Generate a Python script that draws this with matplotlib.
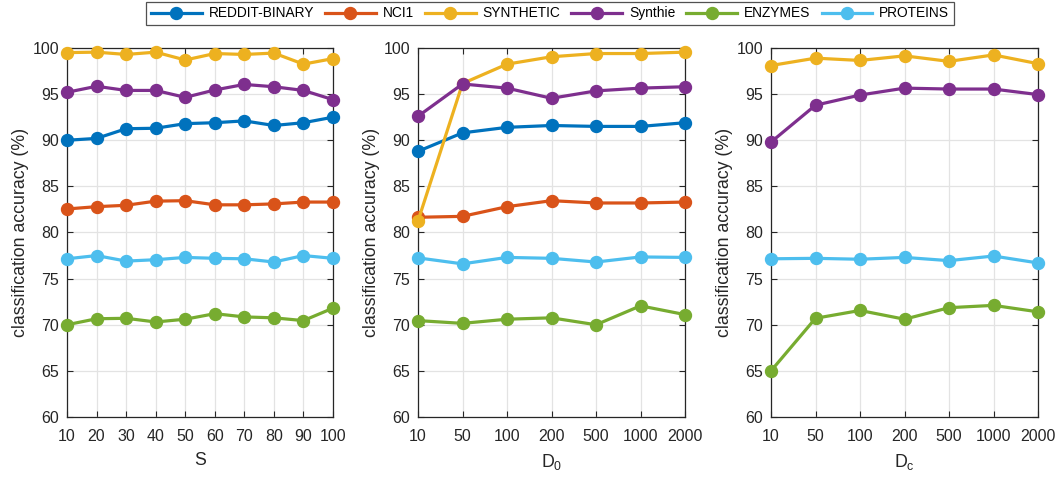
import matplotlib
matplotlib.use("Agg")
import matplotlib.pyplot as plt

plt.rcParams['font.family'] = ['Liberation Sans', 'DejaVu Sans']
plt.rcParams['mathtext.fontset'] = 'custom'
plt.rcParams['mathtext.rm'] = 'Liberation Sans'
plt.rcParams['mathtext.it'] = 'Liberation Sans:italic'

# ---- data ----
series_names = ['REDDIT-BINARY', 'NCI1', 'SYNTHETIC', 'Synthie', 'ENZYMES', 'PROTEINS']
colors = ['#0072BD', '#D95319', '#EDB120', '#7E2F8E', '#77AC30', '#4DBEEE']

s_values = [10, 20, 30, 40, 50, 60, 70, 80, 90, 100]
d_labels = ['10', '50', '100', '200', '500', '1000', '2000']

# Panel 1: varying S
p1_reddit = [90.0, 90.2, 91.25, 91.3, 91.8, 91.9, 92.1, 91.6, 91.9, 92.5]
p1_nci1 = [82.55, 82.8, 82.95, 83.4, 83.45, 83.0, 83.0, 83.1, 83.3, 83.3]
p1_synthetic = [99.5, 99.55, 99.3, 99.55, 98.7, 99.4, 99.3, 99.45, 98.25, 98.85]
p1_synthie = [95.2, 95.85, 95.4, 95.4, 94.65, 95.45, 96.05, 95.8, 95.4, 94.4]
p1_enzymes = [70.0, 70.65, 70.7, 70.3, 70.6, 71.2, 70.85, 70.75, 70.45, 71.8]
p1_proteins = [77.15, 77.5, 76.9, 77.05, 77.3, 77.2, 77.15, 76.8, 77.5, 77.2]

# Panel 2: varying D_0
p2_reddit = [88.8, 90.8, 91.4, 91.6, 91.5, 91.5, 91.9]
p2_nci1 = [81.65, 81.75, 82.8, 83.45, 83.2, 83.2, 83.3]
p2_synthetic = [81.25, 96.15, 98.25, 99.05, 99.4, 99.4, 99.55]
p2_synthie = [92.6, 96.1, 95.65, 94.55, 95.35, 95.65, 95.8]
p2_enzymes = [70.45, 70.15, 70.6, 70.75, 70.0, 72.05, 71.1]
p2_proteins = [77.25, 76.6, 77.3, 77.2, 76.8, 77.35, 77.3]

# Panel 3: varying D_c (only four datasets)
p3_synthetic = [98.1, 98.9, 98.65, 99.15, 98.55, 99.25, 98.3]
p3_synthie = [89.8, 93.8, 94.9, 95.65, 95.55, 95.55, 94.95]
p3_enzymes = [65.0, 70.7, 71.55, 70.6, 71.85, 72.1, 71.4]
p3_proteins = [77.15, 77.2, 77.1, 77.3, 76.95, 77.45, 76.7]

panel1 = [p1_reddit, p1_nci1, p1_synthetic, p1_synthie, p1_enzymes, p1_proteins]
panel2 = [p2_reddit, p2_nci1, p2_synthetic, p2_synthie, p2_enzymes, p2_proteins]
panel3 = [None, None, p3_synthetic, p3_synthie, p3_enzymes, p3_proteins]

y_ticks = [60, 65, 70, 75, 80, 85, 90, 95, 100]

# ---- figure ----
W, H = 1060, 479
fig = plt.figure(figsize=(W / 100, H / 100), dpi=100)

axes_px = [(67, 333), (418, 685), (771, 1038)]
top_px, bot_px = 48, 417

tick_fs = 11.5
label_fs = 12.8
axcol = '#262626'

lw = 2.3
ms = 8.6

def style_axes(ax):
    ax.set_ylim(60, 100)
    ax.set_yticks(y_ticks)
    ax.grid(True, color='#e3e3e3', linewidth=0.9)
    ax.set_axisbelow(True)
    for sp in ax.spines.values():
        sp.set_color(axcol)
        sp.set_linewidth(0.9)
    ax.tick_params(direction='in', length=4, width=0.8, colors=axcol,
                   labelsize=tick_fs, top=True, right=True)
    ax.tick_params(axis='x', pad=8.5)
    ax.tick_params(axis='y', pad=5.5)
    ax.set_ylabel('classification accuracy (%)', fontsize=label_fs, color=axcol, labelpad=3)

handles = []
for i, (l, r) in enumerate(axes_px):
    ax = fig.add_axes([l / W, 1 - bot_px / H, (r - l) / W, (bot_px - top_px) / H])
    if i == 0:
        xs = s_values
        data = panel1
        ax.set_xlim(10, 100)
        ax.set_xticks(s_values)
        ax.set_xticklabels([str(v) for v in s_values])
        xlabel = 'S'
    else:
        xs = list(range(len(d_labels)))
        data = panel2 if i == 1 else panel3
        ax.set_xlim(0, len(d_labels) - 1)
        ax.set_xticks(xs)
        ax.set_xticklabels(d_labels)
        xlabel = r'$\mathregular{D_0}$' if i == 1 else r'$\mathregular{D_c}$'
    for name, col, vals in zip(series_names, colors, data):
        if vals is None:
            continue
        h, = ax.plot(xs, vals, '-o', color=col, lw=lw, ms=ms, label=name,
                     clip_on=False, zorder=3)
        if i == 0:
            handles.append(h)
    style_axes(ax)
    ax.set_xlabel(xlabel, fontsize=label_fs, color=axcol, labelpad=6)

leg = fig.legend(handles, series_names, loc='upper center', ncol=6,
                 bbox_to_anchor=(550 / W, 1 - 1.5 / H), fontsize=9.9,
                 frameon=True, fancybox=False, edgecolor=axcol,
                 handlelength=3.7, handletextpad=0.5, columnspacing=0.8,
                 borderpad=0.35, borderaxespad=0)
leg.get_frame().set_linewidth(0.9)
for t in leg.get_texts():
    t.set_color('#000000')

fig.savefig('out.png', dpi=100)
